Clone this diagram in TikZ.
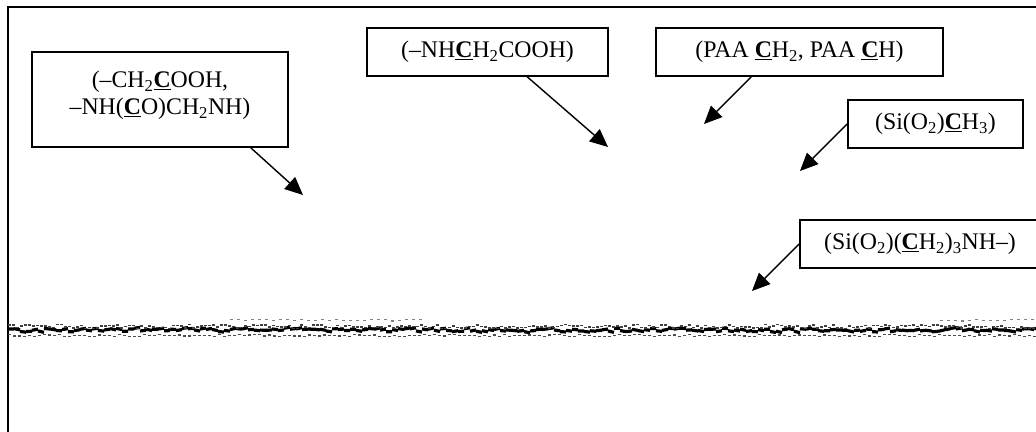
\documentclass[tikz,border=0pt]{standalone}
\usepackage{fontspec}
\setmainfont{Liberation Serif}
\usetikzlibrary{arrows.meta}
\newcommand{\ulC}{\underline{\textbf{C}}}

\begin{document}
\begin{tikzpicture}[x=1pt,y=-1pt,
  box/.style={draw,line width=1.6pt,inner sep=0pt,align=center,font=\fontsize{23.8}{27}\selectfont},
  arr/.style={-{Triangle[length=18pt,width=16pt]},line width=1.4pt},
  frame/.style={line width=2pt}]
 \useasboundingbox (0,0) rectangle (1036,431);
 \clip (0,0) rectangle (1036,431);

 \draw [frame] (8,440) -- (8,7) -- (1045,7);

 \node [box,minimum width=256pt,minimum height=95pt] (b1) at (160,99.5)
   {(–CH\textsubscript{2}\ulC OOH,\\–NH(\ulC O)CH\textsubscript{2}NH)\\[-14pt]\mbox{}};
 \node [box,minimum width=241pt,minimum height=48pt] (b2) at (487.5,52)
   {(–NH\ulC H\textsubscript{2}COOH)};
 \node [box,minimum width=287pt,minimum height=48pt] (b3) at (799.5,52)
   {(PAA \ulC H\textsubscript{2}, PAA \ulC H)};
 \node [box,minimum width=175pt,minimum height=48pt] (b4) at (935.5,124)
   {(Si(O\textsubscript{2})\ulC H\textsubscript{3})};
 \node [box,minimum width=240pt,minimum height=48pt] (b5) at (920,244)
   {(Si(O\textsubscript{2})(\ulC H\textsubscript{2})\textsubscript{3}NH–)};

 \coordinate (t1) at (303,195);
 \coordinate (t2) at (608,147);
 \coordinate (t3) at (704,124);
 \coordinate (t4) at (800,171);
 \coordinate (t5) at (752,291);

 \draw [arr] ([xshift=-38pt]b1.south east) -- (t1);
 \draw [arr] ([xshift=161pt]b2.south west) -- (t2);
 \draw [arr] ([xshift=96pt]b3.south west) -- (t3);
 \draw [arr] (b4.west) -- (t4);
 \draw [arr] (b5.west) -- (t5);

 % spectrum trace
 \pgfmathsetseed{42}
 \foreach \x in {8,14,...,1036}
   \draw [line width=3.2pt] (\x,{330+1.8*rand}) -- ++(6,{1.4*rand});
 \foreach \x in {8,12,...,1036}
   \draw [line width=1.6pt,black!75] (\x,{326.5+2*rand}) -- ++(3,0);
 \foreach \x in {8,13,...,1036}
   \draw [line width=1.2pt,black!70] (\x,{335.5+rand}) -- ++(2.5,0);
 \foreach \x in {230,237,...,420,940,947,...,1036}
   \draw [line width=1.2pt,gray] (\x,{320+rand}) -- ++(3,0);
\end{tikzpicture}
\end{document}
